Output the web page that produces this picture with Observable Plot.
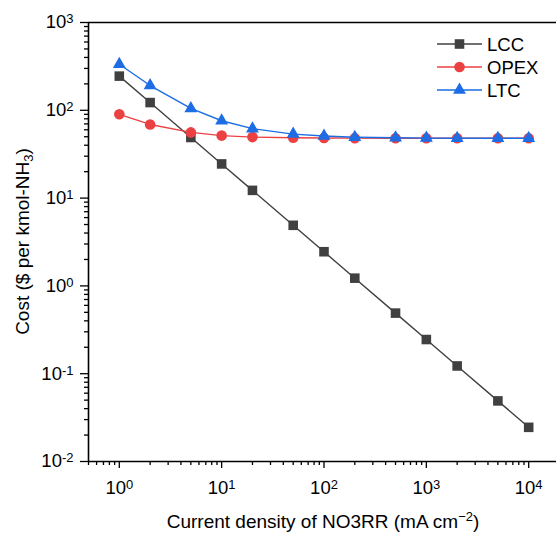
<!DOCTYPE html>
<html>
<head>
<meta charset="utf-8">
<script src="https://cdn.jsdelivr.net/npm/d3@7"></script>
<script src="https://cdn.jsdelivr.net/npm/@observablehq/plot@0.6"></script>
<style>
  body { margin: 0; background: #fff; }
  #chart svg { display: block; }
</style>
</head>
<body>
<div id="chart"></div>
<script>
// Current density of NO3RR (mA cm^-2)
const currentDensity = [1, 2, 5, 10, 20, 50, 100, 200, 500, 1000, 2000, 5000, 10000];
// Cost components ($ per kmol-NH3)
const lcc  = [245, 122.5, 49, 24.5, 12.25, 4.9, 2.45, 1.225, 0.49, 0.245, 0.1225, 0.049, 0.0245];
const opex = [90, 69, 56, 51.5, 49.5, 48.7, 48.4, 48.2, 48.1, 48, 48, 48, 48];
const ltc  = [335, 191.5, 105, 76, 61.8, 53.6, 50.9, 49.4, 48.6, 48.25, 48.1, 48.05, 48.02];
const seriesNames = ["LCC", "OPEX", "LTC"];
const seriesColors = ["#404040", "#ec4143", "#1d6de5"];
const seriesSymbols = ["square", "circle", "triangle"];
const seriesRadius = [5.4, 5.3, 4.8];
const xMajorTicks = [1, 10, 100, 1000, 10000];
const yMajorTicks = [0.01, 0.1, 1, 10, 100, 1000];

const xDomain = [0.5, 2e4];
const yDomain = [0.01, 1000];

// minor ticks at 2..9 within each decade
function minorTicks([lo, hi]) {
  const out = [];
  for (let e = Math.floor(Math.log10(lo)); e <= Math.ceil(Math.log10(hi)); e++) {
    for (let m = 2; m <= 9; m++) {
      const v = m * Math.pow(10, e);
      if (v >= lo && v <= hi) out.push(v);
    }
  }
  return out;
}

const series = [lcc, opex, ltc].map((values, i) => ({
  name: seriesNames[i],
  color: seriesColors[i],
  symbol: seriesSymbols[i],
  r: seriesRadius[i],
  data: currentDensity.map((x, j) => ({x, y: values[j]}))
}));

const font = "'Liberation Sans', Arial, Helvetica, sans-serif";
const expFormat = d => "10^" + Math.round(Math.log10(d));

const marks = [
  Plot.axisX(minorTicks(xDomain), {tickSize: 4, strokeWidth: 1.3, tickFormat: () => "", label: null}),
  Plot.axisY(minorTicks(yDomain), {tickSize: 4, strokeWidth: 1.3, tickFormat: () => "", label: null}),
  Plot.axisX(xMajorTicks, {tickSize: 7, tickPadding: 12, strokeWidth: 1.3, tickFormat: expFormat, label: null}),
  Plot.axisY(yMajorTicks, {tickSize: 8, tickPadding: 7, strokeWidth: 1.3, tickFormat: expFormat, label: null}),
  Plot.ruleX([xDomain[0]], {stroke: "#000", strokeWidth: 1.6}),
  Plot.ruleY([yDomain[0]], {stroke: "#000", strokeWidth: 1.6}),
  Plot.ruleY([yDomain[1]], {stroke: "#000", strokeWidth: 1.6})
];
for (const s of series) {
  marks.push(Plot.line(s.data, {x: "x", y: "y", stroke: s.color, strokeWidth: 1.4}));
  marks.push(Plot.dot(s.data, {x: "x", y: "y", symbol: s.symbol, r: s.r, fill: s.color, stroke: "none"}));
}

const chart = Plot.plot({
  width: 556,
  height: 534,
  marginLeft: 88,
  marginRight: 0,
  marginTop: 22,
  marginBottom: 73,
  style: {fontFamily: font, background: "#fff", color: "#000", overflow: "hidden"},
  x: {type: "log", domain: xDomain, range: [88, 559]},
  y: {type: "log", domain: yDomain, range: [461, 22]},
  marks
});

const svg = d3.select(chart);

// turn "10^n" tick labels into a base with a superscript exponent
svg.selectAll("text").each(function () {
  const m = /^10\^(-?\d+)$/.exec(this.textContent);
  if (!m) return;
  const t = d3.select(this);
  t.attr("font-size", 18.5).attr("font-family", font);
  t.text("10");
  t.append("tspan").attr("font-size", 13).attr("dy", -5).text(m[1]);
});

// axis titles
const yTitle = svg.append("text")
  .attr("transform", "translate(22,241.5) rotate(-90)")
  .attr("text-anchor", "middle")
  .attr("dy", "0.35em")
  .attr("font-family", font)
  .attr("font-size", 19)
  .attr("fill", "#000");
yTitle.append("tspan").text("Cost ($ per kmol-NH");
yTitle.append("tspan").attr("font-size", 13).attr("dy", 4).text("3");
yTitle.append("tspan").attr("dy", -4).text(")");

const xTitle = svg.append("text")
  .attr("x", 323)
  .attr("y", 521)
  .attr("text-anchor", "middle")
  .attr("dy", "0.35em")
  .attr("font-family", font)
  .attr("font-size", 19)
  .attr("fill", "#000");
xTitle.append("tspan").text("Current density of NO3RR (mA cm");
xTitle.append("tspan").attr("font-size", 13).attr("dy", -7).text("\u22122");
xTitle.append("tspan").attr("dy", 7).text(")");

// legend
const legend = svg.append("g")
  .attr("font-family", font)
  .attr("font-size", 18.5)
  .attr("text-anchor", "start");
const symbolTypes = {square: d3.symbolSquare, circle: d3.symbolCircle, triangle: d3.symbolTriangle};
series.forEach((s, i) => {
  const y = 44 + i * 23;
  legend.append("line")
    .attr("x1", 437).attr("x2", 482).attr("y1", y).attr("y2", y)
    .attr("stroke", s.color).attr("stroke-width", 1.4);
  legend.append("path")
    .attr("d", d3.symbol(symbolTypes[s.symbol], Math.PI * s.r * s.r)())
    .attr("transform", `translate(459.5,${y})`)
    .attr("fill", s.color);
  legend.append("text")
    .attr("x", 487).attr("y", y).attr("dy", "0.36em")
    .attr("text-anchor", "start")
    .attr("fill", "#000")
    .text(s.name);
});

document.getElementById("chart").appendChild(chart);
</script>
</body>
</html>
